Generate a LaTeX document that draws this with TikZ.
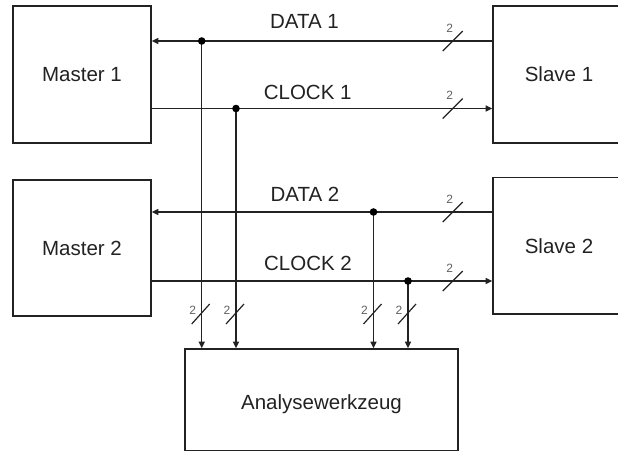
\documentclass[tikz,border=0pt]{standalone}
\usepackage{fontspec}
\setmainfont{Liberation Sans}
\usetikzlibrary{arrows.meta,calc}
\definecolor{ink}{HTML}{222222}
\definecolor{busgray}{HTML}{606060}
\begin{document}
\begin{tikzpicture}[x=1pt,y=-1pt,
  box/.style={draw=ink,line width=1.6pt,text=ink,font=\fontsize{20.5}{24}\selectfont,inner sep=0pt},
  sig/.style={draw=ink,line width=1.4pt},
  tip/.style={-{Triangle[length=6.5pt,width=6pt]}},
  lbl/.style={text=ink,font=\fontsize{20.5}{24}\selectfont,inner sep=0pt,anchor=base},
  dot/.style={fill=black,circle,inner sep=0pt,minimum size=7.6pt},
  buslbl/.style={text=busgray,font=\fontsize{12}{14}\selectfont,inner sep=0pt},
  slash/.style={draw=ink,line width=1.2pt}]
\useasboundingbox (0,0) rectangle (618,452);

% units
\node[box,minimum width=138pt,minimum height=137pt] (m1) at (82,74.5) {Master 1};
\node[box,minimum width=138pt,minimum height=136pt] (m2) at (82,248) {Master 2};
\node[box,minimum width=132pt,minimum height=137pt] (s1) at (559,74.5) {Slave 1};
\node[box,minimum width=132pt,minimum height=136.5pt] (s2) at (559,245.75) {Slave 2};
\node[box,minimum width=273pt,minimum height=101.5pt] (an) at (321.5,399.75) {};
\node[lbl] (antext) at (321.5,409) {Analysewerkzeug};

% tap points on the lines
\coordinate (d1) at (201.7,41);
\coordinate (c1) at (236,108.5);
\coordinate (d2) at (373.5,212);
\coordinate (c2) at (408,281);

% signal names
\node[lbl] (ld1) at (304.5,29) {DATA 1};
\node[lbl] (lc1) at (307.7,99) {CLOCK 1};
\node[lbl] (ld2) at (305,201.7) {DATA 2};
\node[lbl] (lc2) at (308,270) {CLOCK 2};

% horizontal lines
\draw[sig,tip] (s1.west |- d1) -- (m1.east |- d1);
\draw[sig,tip] (m1.east |- c1) -- (s1.west |- c1);
\draw[sig,tip] (s2.west |- d2) -- (m2.east |- d2);
\draw[sig,tip] (m2.east |- c2) -- (s2.west |- c2);

% taps down to the analyser
\foreach \p in {d1,c1,d2,c2}{
  \draw[sig,tip] (\p) -- (\p |- an.north);
  \node[dot] at (\p) {};
}

% bus width marks on the horizontal lines
\foreach \p in {d1,c1,d2,c2}{
  \coordinate (h) at (452.7,0 |- \p);
  \draw[slash] ($(h)+(-10,10)$) -- ($(h)+(10,-10)$);
  \node[buslbl] at ($(h)+(-3,-13)$) {2};
}

% bus width marks on the vertical taps
\foreach \p in {d1,c1,d2,c2}{
  \coordinate (v) at (\p |- 0,314);
  \draw[slash] ($(v)+(-10,10)$) -- ($(v)+(8,-10)$);
  \node[buslbl] at ($(v)+(-9,-4)$) {2};
}
\end{tikzpicture}
\end{document}
